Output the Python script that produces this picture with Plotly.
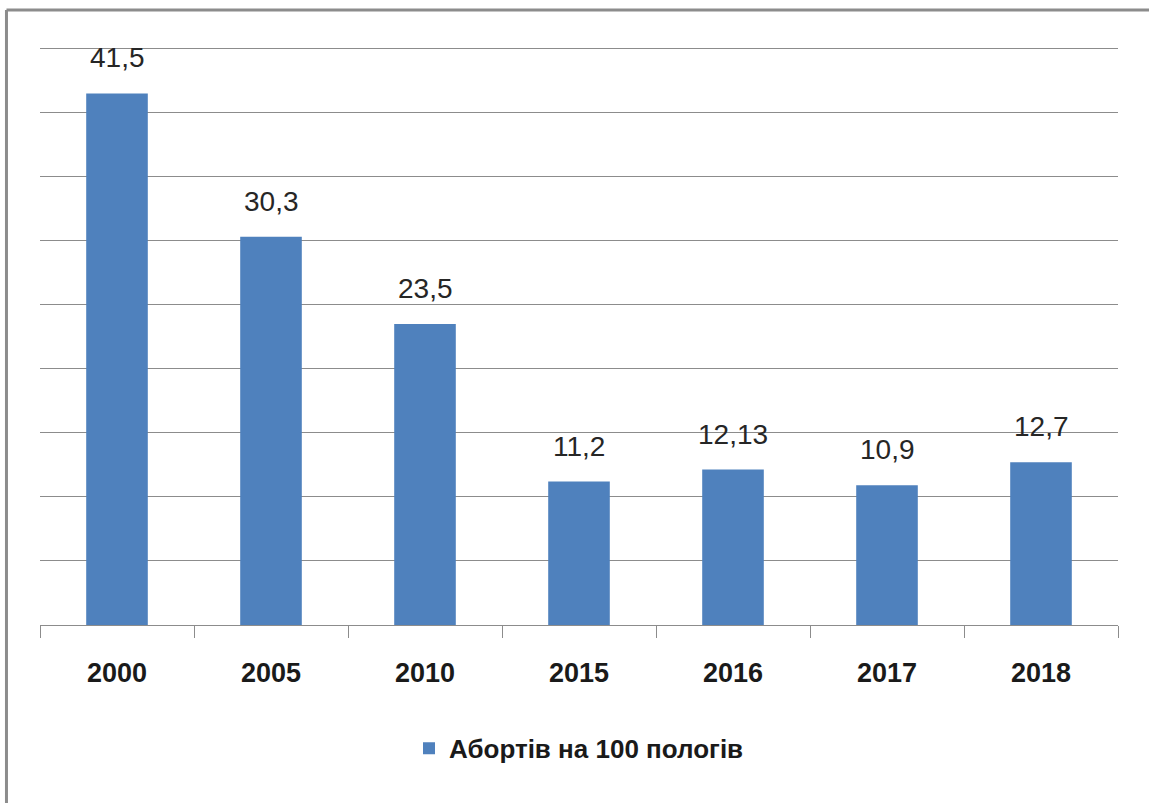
import plotly.graph_objects as go

years = ["2000", "2005", "2010", "2015", "2016", "2017", "2018"]
abortions_per_100_births = [41.5, 30.3, 23.5, 11.2, 12.13, 10.9, 12.7]
series_name = "Абортів на 100 пологів"

BAR_BLUE = "#4F81BD"
GRID_GRAY = "#8C8C8C"
FONT = "Liberation Sans, Arial, sans-serif"

fig = go.Figure()
fig.add_trace(
    go.Bar(
        x=years,
        y=abortions_per_100_births,
        name=series_name,
        marker={"color": BAR_BLUE, "line": {"width": 0}},
        showlegend=True,
    )
)

# value labels above bars, with decimal comma like the source
# (category index as x: numeric-looking strings would be read as indices)
for i, value in enumerate(abortions_per_100_births):
    fig.add_annotation(
        x=i,
        y=value,
        text=f"{value:g}".replace(".", ","),
        showarrow=False,
        yanchor="bottom",
        yshift=18,
        font={"family": FONT, "size": 28, "color": "#262626"},
    )

# outer frame (only left and top edges are visible in the crop)
frame = {"color": GRID_GRAY, "width": 3}
fig.add_shape(type="line", xref="paper", yref="paper",
              x0=-0.0311, x1=1.05, y0=1.0622, y1=1.0622, line=frame)
fig.add_shape(type="line", xref="paper", yref="paper",
              x0=-0.0311, x1=-0.0311, y0=1.0622, y1=-0.35, line=frame)

fig.update_layout(
    width=1149,
    height=803,
    paper_bgcolor="white",
    plot_bgcolor="white",
    margin={"l": 40, "r": 31, "t": 46, "b": 178},
    bargap=0.6,
    font={"family": FONT, "color": "#1a1a1a"},
    legend={
        "orientation": "h",
        "x": 0.5,
        "xanchor": "center",
        "y": -0.213,
        "yanchor": "middle",
        "font": {"family": FONT, "size": 26, "color": "#1a1a1a", "weight": "bold"},
    },
)
fig.update_xaxes(
    type="category",
    range=[-0.5, len(years) - 0.5],
    showline=True,
    linecolor=GRID_GRAY,
    linewidth=1,
    ticks="outside",
    tickson="boundaries",
    ticklen=12,
    tickcolor=GRID_GRAY,
    tickfont={"family": FONT, "size": 27, "color": "#1a1a1a", "weight": "bold"},
    ticklabelstandoff=24,
    showgrid=False,
)
fig.update_yaxes(
    range=[0, 45.2],
    dtick=5,
    showgrid=True,
    gridcolor=GRID_GRAY,
    gridwidth=1,
    showticklabels=False,
    zeroline=False,
    showline=False,
)

fig.write_html(
    "out.html",
    config={"displayModeBar": False},
    post_script="document.body.style.margin='0';",
)
